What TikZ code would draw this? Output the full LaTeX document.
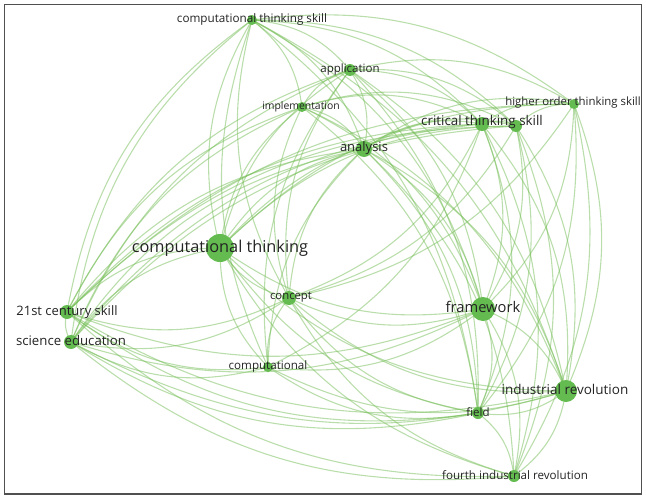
\documentclass[tikz,border=0pt]{standalone}
\usepackage{fontspec}
\setmainfont{Open Sans}
\usetikzlibrary{backgrounds}
\definecolor{nodegreen}{RGB}{100,188,80}
\definecolor{linkgreen}{RGB}{118,190,88}
\definecolor{txt}{RGB}{35,35,35}
\definecolor{framegray}{RGB}{80,80,80}
\newdimen\lkx \newdimen\lky
\newcommand\lk[2]{%
 \pgfextractx{\lkx}{\pgfpointanchor{#1}{center}}\pgfmathsetmacro\xa{\lkx/100}%
 \pgfextracty{\lky}{\pgfpointanchor{#1}{center}}\pgfmathsetmacro\ya{\lky/100}%
 \pgfextractx{\lkx}{\pgfpointanchor{#2}{center}}\pgfmathsetmacro\xb{\lkx/100}%
 \pgfextracty{\lky}{\pgfpointanchor{#2}{center}}\pgfmathsetmacro\yb{\lky/100}%
 \pgfmathsetmacro\bd{(((\ya-\yb)*((\xa+\xb)/2-3.23)+(\xb-\xa)*((\ya+\yb)/2+2.49))>0) ? 22 : -22}%
 \draw[link] (#1.center) to[bend left=\bd] (#2.center);}
\begin{document}
\begin{tikzpicture}[x=1pt,y=-1pt,
 dot/.style={circle,fill=nodegreen,inner sep=0pt,minimum size=#1},
 lab/.style={text=txt,inner sep=0pt,font=\fontsize{#1}{#1}\selectfont},
 link/.style={draw=linkgreen,opacity=0.5,line width=1.1pt}]
\useasboundingbox (0,0) rectangle (646,498);
% nodes
\node[dot=10] (cts) at (252,20) {};
\node[dot=12] (app) at (350,70) {};
\node[dot=10] (imp) at (302,107) {};
\node[dot=16] (ana) at (364,149) {};
\node[dot=14] (crit) at (482,124) {};
\node[dot=12] (unk) at (516,126) {};
\node[dot=10] (hots) at (574,104) {};
\node[dot=28] (ct) at (220,248) {};
\node[dot=14] (con) at (289,298) {};
\node[dot=14] (c21) at (67,312) {};
\node[dot=14] (sci) at (71,342) {};
\node[dot=10] (comp) at (268,367) {};
\node[dot=24] (fw) at (483,309) {};
\node[dot=22] (ir) at (566,391) {};
\node[dot=12] (fld) at (478,413) {};
\node[dot=12] (fir) at (514,476) {};
% links
\begin{pgfonlayer}{background}
\foreach \b in {app,imp,ana,crit,unk,hots,ct,con,c21,sci,fw,fld,ir,comp}{\lk{cts}{\b}}
\foreach \b in {imp,ana,crit,unk,hots,ct,con,c21,sci,fw,fld,ir,comp}{\lk{app}{\b}}
\foreach \b in {ana,crit,unk,ct,con,c21,sci,fw,fld,ir}{\lk{imp}{\b}}
\foreach \b in {crit,unk,hots,ct,con,c21,sci,comp,fw,fld,ir,fir}{\lk{ana}{\b}}
\foreach \b in {unk,hots,ct,con,c21,sci,comp,fw,fld,ir,fir}{\lk{crit}{\b}}
\foreach \b in {hots,ct,con,c21,sci,fw,fld,ir,fir}{\lk{unk}{\b}}
\foreach \b in {ct,con,c21,fw,fld,ir,fir}{\lk{hots}{\b}}
\foreach \b in {con,c21,sci,comp,fw,fld,ir,fir}{\lk{ct}{\b}}
\foreach \b in {c21,sci,comp,fw,fld,ir,fir}{\lk{con}{\b}}
\foreach \b in {sci,comp,fw,fld,ir,fir}{\lk{c21}{\b}}
\foreach \b in {comp,fw,fld,ir,fir}{\lk{sci}{\b}}
\foreach \b in {fw,fld,ir}{\lk{comp}{\b}}
\foreach \b in {ir,fld,fir}{\lk{fw}{\b}}
\foreach \b in {fld,fir}{\lk{ir}{\b}}
\lk{fld}{fir}
\end{pgfonlayer}
% labels
\node[lab=11.7] (lcts) at (252,19) {computational thinking skill};
\node[lab=11.5] (lapp) at (350,70) {application};
\node[lab=10.4] (limp) at (301,107) {implementation};
\node[lab=13] (lana) at (364,148) {analysis};
\node[lab=13.4] (lcrit) at (482,122) {critical thinking skill};
\node[lab=11.4] (lhots) at (573,103) {higher order thinking skill};
\node[lab=16.3] (lct) at (220,248) {computational thinking};
\node[lab=11.3] (lcon) at (291,297) {concept};
\node[lab=13] (lc21) at (67,312) {21st century skill};
\node[lab=13.2] (lsci) at (71,341) {science education};
\node[lab=11.6] (lcomp) at (268,366) {computational};
\node[lab=14.7] (lfw) at (483,307) {framework};
\node[lab=13.5] (lir) at (565,389) {industrial revolution};
\node[lab=11.5] (lfld) at (478,412) {field};
\node[lab=11.6] (lfir) at (515,475) {fourth industrial revolution};
% frame
\draw[framegray,line width=1.3pt] (4.5,4.5) rectangle (641.5,494);
\end{tikzpicture}
\end{document}
